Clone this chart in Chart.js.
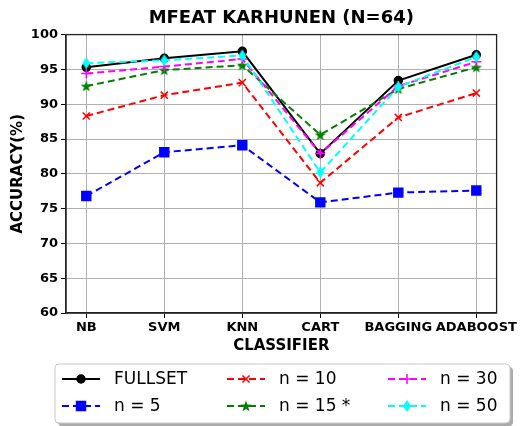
<!DOCTYPE html>
<html>
<head>
<meta charset="utf-8">
<script src="https://cdn.jsdelivr.net/npm/chart.js@4.4.0/dist/chart.umd.min.js"></script>
<style>
  html, body { margin: 0; padding: 0; background: #fff; }
  #wrap { width: 520px; height: 426px; }
</style>
</head>
<body>
<div id="wrap"><canvas id="chart" width="520" height="426"></canvas></div>
<script>
// data
const categories = ['NB', 'SVM', 'KNN', 'CART', 'BAGGING', 'ADABOOST'];
const fullset = [95.3, 96.6, 97.6, 82.9, 93.4, 97.1];
const n5 = [76.8, 83.1, 84.1, 75.9, 77.3, 77.6];
const n10 = [88.3, 91.3, 93.1, 78.7, 88.1, 91.6];
const n15 = [92.6, 94.9, 95.6, 85.6, 92.2, 95.3];
const n30 = [94.4, 95.4, 96.5, 82.9, 92.6, 96.1];
const n50 = [95.9, 96.3, 97.0, 80.2, 92.5, 96.8];
const yTicks = [60, 65, 70, 75, 80, 85, 90, 95, 100];

Chart.defaults.font.family = "'DejaVu Sans', sans-serif";
Chart.defaults.color = '#000';

// filled star / thin diamond markers like matplotlib '*' and 'd'
function makeMarker(kind, color) {
    const c = document.createElement('canvas');
    c.width = 14; c.height = 14;
    const g = c.getContext('2d');
    g.fillStyle = color;
    g.beginPath();
    if (kind === 'star') {
        for (let i = 0; i < 10; i++) {
            const r = i % 2 === 0 ? 6 : 2.4;
            const a = -Math.PI / 2 + i * Math.PI / 5;
            g.lineTo(7 + r * Math.cos(a), 7.5 + r * Math.sin(a));
        }
    } else {
        g.moveTo(7, 1); g.lineTo(11, 7); g.lineTo(7, 13); g.lineTo(3, 7);
    }
    g.closePath();
    g.fill();
    return c;
}
const starImg = makeMarker('star', '#008000');
const diamondImg = makeMarker('diamond', '#00ffff');

const dash = [7, 4];
const series = [
    { label: 'FULLSET', data: fullset, color: '#000000', dash: [], style: 'circle', radius: 4 },
    { label: 'n = 5', data: n5, color: '#0000ff', dash: dash, style: 'rect', radius: 6.3 },
    { label: 'n = 10', data: n10, color: '#ff0000', dash: dash, style: 'crossRot', radius: 5 },
    { label: 'n = 15 *', data: n15, color: '#008000', dash: dash, style: starImg, radius: 6 },
    { label: 'n = 30', data: n30, color: '#ff00ff', dash: dash, style: 'cross', radius: 5 },
    { label: 'n = 50', data: n50, color: '#00ffff', dash: dash, style: diamondImg, radius: 6 }
];

const datasets = series.map((s, i) => ({
    label: s.label,
    data: s.data.map((v, j) => ({ x: j, y: v })),
    borderColor: s.color,
    backgroundColor: s.color,
    borderWidth: 2,
    borderDash: s.dash,
    pointStyle: s.style,
    pointRadius: s.radius,
    pointBorderWidth: 1.5,
    pointBorderColor: s.color,
    pointBackgroundColor: s.color,
    tension: 0,
    order: series.length - i
}));

// top/right spines
const frame = {
    id: 'frame',
    afterDatasetsDraw(chart) {
        const a = chart.chartArea, ctx = chart.ctx;
        ctx.save();
        ctx.strokeStyle = '#222';
        ctx.lineWidth = 1.3;
        ctx.strokeRect(a.left, a.top, a.right - a.left, a.bottom - a.top);
        ctx.restore();
    }
};

// matplotlib style legend box, 3 columns filled column by column
const boxLegend = {
    id: 'boxLegend',
    afterDraw(chart) {
        const ctx = chart.ctx;
        const bx = 55, by = 364, bw = 455, bh = 59;
        ctx.save();
        ctx.fillStyle = '#ababab';
        ctx.beginPath(); ctx.roundRect(bx + 3, by + 3, bw, bh, 4); ctx.fill();
        ctx.fillStyle = '#fff';
        ctx.strokeStyle = '#c8c8c8';
        ctx.lineWidth = 1;
        ctx.beginPath(); ctx.roundRect(bx, by, bw, bh, 4); ctx.fill(); ctx.stroke();
        const cols = [62, 227, 388];
        const rows = [379, 406];
        ctx.font = "17px 'DejaVu Sans'";
        ctx.textBaseline = 'middle';
        chart.data.datasets.forEach((ds, i) => {
            const x0 = cols[Math.floor(i / 2)], y = rows[i % 2];
            ctx.strokeStyle = ds.borderColor;
            ctx.lineWidth = 2;
            ctx.setLineDash(ds.borderDash);
            ctx.beginPath(); ctx.moveTo(x0, y); ctx.lineTo(x0 + 38, y); ctx.stroke();
            ctx.setLineDash([]);
            ctx.fillStyle = ds.backgroundColor;
            ctx.lineWidth = 1.5;
            Chart.helpers.drawPoint(ctx, { pointStyle: ds.pointStyle, radius: ds.pointRadius, rotation: 0, borderWidth: 1.5 }, x0 + 19, y);
            ctx.fillStyle = '#000';
            ctx.fillText(ds.label, x0 + 52, y + 1);
        });
        ctx.restore();
    }
};

new Chart(document.getElementById('chart'), {
    type: 'line',
    data: { datasets: datasets },
    plugins: [frame, boxLegend],
    options: {
        responsive: false,
        animation: false,
        layout: { padding: { left: 0, right: 23, top: 0, bottom: 71 } },
        scales: {
            x: {
                type: 'linear',
                min: -0.26,
                max: 5.26,
                afterBuildTicks: (scale) => { scale.ticks = categories.map((c, i) => ({ value: i })); },
                afterFit: (scale) => { scale.height = 42; },
                ticks: {
                    autoSkip: false,
                    maxRotation: 0,
                    padding: 2,
                    font: { size: 13, weight: 'bold' },
                    callback: (v) => categories[v]
                },
                grid: { color: '#b0b0b0', lineWidth: 1, tickColor: '#000', tickLength: 5 },
                border: { color: '#222', width: 1.3 },
                title: { display: true, text: 'CLASSIFIER', font: { size: 15, weight: 'bold' }, padding: { top: 0, bottom: 0 } }
            },
            y: {
                min: 60,
                max: 100,
                afterBuildTicks: (scale) => { scale.ticks = yTicks.map(v => ({ value: v })); },
                afterFit: (scale) => { scale.width = 66; },
                ticks: { padding: 3, font: { size: 13, weight: 'bold' } },
                grid: { color: '#b0b0b0', lineWidth: 1, tickColor: '#000', tickLength: 5 },
                border: { color: '#222', width: 1.3 },
                title: { display: true, text: 'ACCURACY(%)', font: { size: 15, weight: 'bold' }, padding: { top: 9, bottom: 0 } }
            }
        },
        plugins: {
            legend: { display: false },
            tooltip: { enabled: false },
            title: {
                display: true,
                fullSize: false,
                text: 'MFEAT KARHUNEN (N=64)',
                font: { size: 18, weight: 'bold' },
                color: '#000',
                padding: { top: 8, bottom: 5 }
            }
        }
    }
});
</script>
</body>
</html>
